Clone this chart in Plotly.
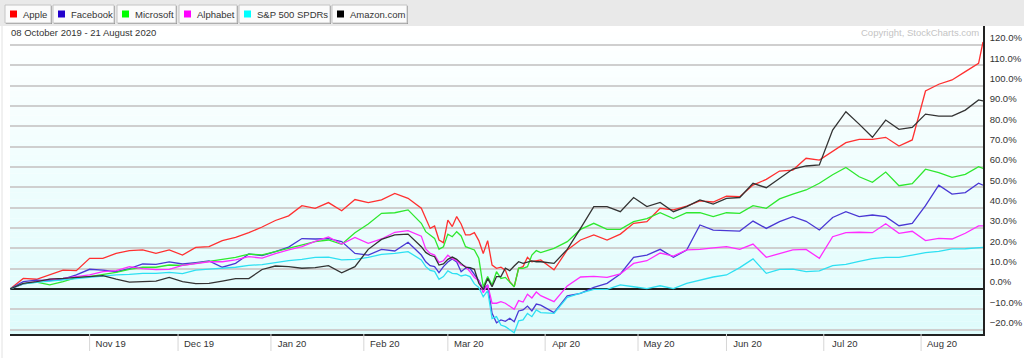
import plotly.graph_objects as go

dates = ["2019-10-08","2019-10-11","2019-10-16","2019-10-21","2019-10-24","2019-10-29",
         "2019-11-01","2019-11-06","2019-11-11","2019-11-14","2019-11-19","2019-11-22","2019-11-27",
         "2019-12-03","2019-12-06","2019-12-11","2019-12-16","2019-12-19","2019-12-24","2019-12-30",
         "2020-01-03","2020-01-08","2020-01-13","2020-01-16","2020-01-22","2020-01-27","2020-01-30",
         "2020-02-04","2020-02-07","2020-02-12","2020-02-18","2020-02-21",
         "2020-02-24","2020-02-25","2020-02-26","2020-02-27","2020-02-28",
         "2020-03-02","2020-03-03","2020-03-04","2020-03-05","2020-03-06",
         "2020-03-09","2020-03-10","2020-03-11","2020-03-12","2020-03-13",
         "2020-03-16","2020-03-17","2020-03-18","2020-03-19","2020-03-20",
         "2020-03-23","2020-03-24","2020-03-25","2020-03-26","2020-03-27",
         "2020-03-30","2020-03-31",
         "2020-04-03","2020-04-08","2020-04-14","2020-04-17","2020-04-22","2020-04-27","2020-04-30",
         "2020-05-05","2020-05-08","2020-05-13","2020-05-18","2020-05-21","2020-05-27",
         "2020-06-01","2020-06-04","2020-06-09","2020-06-12","2020-06-17","2020-06-22","2020-06-25","2020-06-30",
         "2020-07-06","2020-07-09","2020-07-14","2020-07-17","2020-07-22","2020-07-27","2020-07-30",
         "2020-08-04","2020-08-07","2020-08-12","2020-08-17","2020-08-20","2020-08-21"]

apple = [0, 5.2, 4.8, 6.9, 9.3, 9.0, 15.1, 15.1, 17.5, 18.9, 19.2, 17.5, 19.2,
         16.7, 20.5, 20.8, 23.8, 25.4, 27.7, 30.5, 33.7, 36, 41, 39.7, 42.5, 38.5, 44,
         42.5, 43.8, 47, 44.6, 39.7,
         34.6, 29.8, 31, 24.1, 22.8, 33.9, 30.7, 35.6, 32, 26.6, 26.6, 27.7, 23.8, 17.5, 23.8,
         11.8, 10.2, 10.7, 9.3, 3.6, 1.1, 10.2, 11, 15.6, 13.4, 13.9, 14.3,
         9.4, 19.2, 24.1, 26.6, 24.1, 27, 32.3, 33.1, 39.7, 38.9, 40.8, 43.3, 42.8,
         45.7, 45.4, 51.1, 53.9, 58, 58.5, 64.3, 63.4, 67.9, 72, 73.6, 73.6, 74.6, 70.3, 73.3,
         97.4, 100.7, 102.8, 106.9, 111, 121.5]

facebook = [0, 3.6, 4.4, 4.1, 4.8, 6.9, 9.7, 9.3, 8.5, 10, 12.3, 12.1, 13.3,
            12.3, 13, 13.8, 10.7, 12.6, 17.2, 16.4, 18.4, 20.6, 24.8, 24.6, 24.8, 23.3, 17.5,
            16.7, 19.5, 18.7, 23, 16.7,
            13.4, 11.5, 11, 8, 11, 13.3, 14.8, 13.3, 8.5, 10.3, 10.2, 7.4, 4.1, -0.2, 2,
            -12, -16.6, -15.2, -15.9, -14.4, -16.1, -10.8, -10.3, -8.4, -10.8, -7.4, -7.9,
            -11.6, -3.4, -2.1, 0.8, 2.8, 7.4, 15.6, 16.7, 19.5, 15.6, 19.2, 31.5, 29,
            28.7, 28.5, 33.4, 29.8, 33.1, 35.6, 33.3, 29, 35.2, 38, 35.6, 36.4, 35.6, 31.1, 32.3,
            41, 51.1, 46.7, 47.4, 52, 51.1]

microsoft = [0, 2.5, 3.4, 2, 3.6, 5.6, 6.1, 7, 8.2, 9.7, 10.7, 10.7, 11.8,
             11.6, 12.6, 13.6, 14.3, 15.6, 17.2, 16.8, 18.4, 20, 21.5, 23.3, 24.1, 22, 27.7,
             32, 37.2, 37.5, 38.9, 32.3,
             28.2, 26.4, 24.9, 19.5, 20.8, 27, 25.7, 28.2, 26.1, 20.8, 19.8, 19.2, 15.1, 1.1, 6.1,
             2, 8.5, 5.2, 5.7, 3.3, 1.1, 10.2, 10.2, 11, 16.7, 18.9, 17.9,
             20, 23.3, 29.3, 32.3, 29.3, 29.3, 33.1, 34.6, 37.5, 34.6, 37.5, 37.5, 35.6,
             37.5, 37.2, 41, 39.7, 44.3, 46.7, 48.7, 52, 56.2, 59.8, 55.2, 52.5, 57.5, 50.8, 51.8,
             58.9, 57.2, 54.9, 56.4, 60.2, 59.3]

alphabet = [0, 2.5, 3.6, 4.8, 5.2, 6.1, 6.9, 8.5, 9, 11, 10, 9.5, 9.7,
            11.6, 12.6, 13.4, 13.4, 14.3, 15.9, 15.2, 17.4, 19.3, 20.8, 23.4, 25.6, 22.1, 25.4,
            22.5, 24.6, 27.9, 28.7, 26,
            19.7, 17.5, 16.7, 13.1, 13.9, 16.6, 14.9, 13.9, 11.8, 11.1, 8.5, 5.7, 4.1, -1.8, 2,
            -7, -7, -6.2, -7, -8.7, -10, -5.7, -6.4, -2.6, -4.4, -1.5, -3.3,
            -6.2, 1.5, 5.9, 6.2, 5.7, 7.4, 12.6, 13.9, 17.7, 16.2, 19.2, 19.5, 20.2,
            20.8, 19.5, 22.1, 15.6, 17.5, 19.2, 19.5, 15.1, 25.7, 27.7, 27.9, 27.7, 32.1, 27.4, 28.4,
            23.8, 24.9, 24.6, 27.4, 31, 31]

spy = [0, 2.5, 3.3, 3.9, 4.4, 4.9, 5.6, 6.4, 6.9, 7.2, 7.7, 7.7, 8.2,
       7.6, 9.3, 9.8, 10.2, 10.7, 11.6, 12, 13, 14, 14.6, 15.6, 15.7, 14.3, 14.6,
       15.6, 17, 17.5, 18.4, 14.3,
       11, 9.2, 8.7, 4.8, 6.1, 8.9, 7.7, 7.5, 6.4, 6.9, 6.1, 2.5, 0.8, -3.8, -0.8,
       -14.5, -13.6, -17.7, -18.5, -20.2, -21.5, -15.7, -15.2, -12, -13.6, -10.3, -11.6,
       -12, -4.1, -2, -0.2, -0.2, 2, 1.1, 0.2, 1.6, 0.2, 2.8, 4.4, 5.9,
       6.9, 10.5, 14.8, 7.7, 9.7, 9.8, 8.5, 8.9, 11.5, 12.1, 13.6, 14.9, 15.6, 15.6, 16.7,
       17.9, 18.5, 19.7, 19.8, 20.5, 20.5]

amazon = [0, 2.8, 3.6, 4.9, 5.2, 5.7, 6.2, 6.6, 4.9, 3.4, 3.6, 3.9, 5.7,
          3.6, 2.6, 2.8, 3.9, 5.1, 5.1, 9.6, 11.3, 11, 10.2, 10.5, 11.5, 8, 11,
          19.5, 24.4, 26.6, 27, 20.8,
          18, 16.6, 15.9, 11.8, 12.3, 14.6, 15.7, 14.6, 12.6, 10.7, 10.5, 9.7, 2.8, -0.2, 5.2,
          1.1, 6.1, 6.1, 10.2, 9, 11.3, 13.4, 12.6, 13.3, 13.8, 13.4, 13.4,
          12.6, 19.5, 29.8, 40.5, 40.5, 38, 45, 40.5, 42.6, 38, 40.5, 43.8, 41.8,
          44.6, 45, 52, 49.8, 54.4, 59, 60.5, 61, 78.2, 87.2, 81.1, 74.6, 83.1, 78.5, 79.5,
          86, 85, 85, 88, 93, 92.5]

series_names = ["Apple", "Facebook", "Microsoft", "Alphabet", "S&P 500 SPDRs", "Amazon.com"]
series_values = [apple, facebook, microsoft, alphabet, spy, amazon]
line_colors = ["#ff3030", "#4a38d4", "#2ee82e", "#ff2cff", "#2ee0f2", "#333333"]
legend_colors = ["#ff0000", "#2200cc", "#00ff00", "#ff00ff", "#00ffff", "#000000"]

tick_dates = ["2019-11-01", "2019-12-02", "2020-01-02", "2020-02-03", "2020-03-02",
              "2020-04-01", "2020-05-01", "2020-06-01", "2020-07-01", "2020-08-03"]
tick_labels = ["Nov 19", "Dec 19", "Jan 20", "Feb 20", "Mar 20",
               "Apr 20", "May 20", "Jun 20", "Jul 20", "Aug 20"]
holidays = ["2019-11-28", "2019-12-25", "2020-01-01", "2020-01-20", "2020-02-17",
            "2020-04-10", "2020-05-25", "2020-07-03"]

W, H = 1024, 358
L, R, T, B = 10, 983, 26, 334
FS = 9.5


def px(x):
    return (x - L) / (R - L)


def py(y):
    return (B - y) / (B - T)


fig = go.Figure()
for name, vals, col in zip(series_names, series_values, line_colors):
    fig.add_trace(go.Scatter(x=dates, y=vals, mode="lines", name=name,
                             line=dict(color=col, width=1.3), showlegend=False))

shapes = []
n = 48
for k in range(n):
    t = (k + 0.5) / n
    r = int(round(255 - (255 - 222) * t))
    g = int(round(255 - (255 - 252) * t))
    b = int(round(255 - (255 - 252) * t))
    shapes.append(dict(type="rect", xref="paper", yref="paper", x0=0, x1=1,
                       y0=1 - (k + 1) / n, y1=1 - k / n, layer="below",
                       fillcolor=f"rgb({r},{g},{b})", line=dict(width=0)))
shapes.append(dict(type="rect", xref="paper", yref="paper", x0=px(0), x1=px(W),
                   y0=py(26), y1=py(0), fillcolor="#e9e9e9", line=dict(width=0), layer="above"))
shapes.append(dict(type="line", xref="paper", yref="paper", x0=px(2), x1=px(2),
                   y0=py(26), y1=py(H), line=dict(color="#e2e2e2", width=1)))
for d in tick_dates:
    shapes.append(dict(type="line", xref="x", yref="paper", x0=d, x1=d,
                       y0=0, y1=-17 / (B - T), line=dict(color="#d6d6d6", width=1)))

annotations = []
buttons = [(5, 51), (53, 114), (117, 176), (179, 237), (239, 330), (332, 407)]
for (x0, x1), name, col in zip(buttons, series_names, legend_colors):
    shapes.append(dict(type="rect", xref="paper", yref="paper", x0=px(x0 + 1), x1=px(x1 + 1),
                       y0=py(24), y1=py(6), fillcolor="#9a9a9a", line=dict(width=0)))
    shapes.append(dict(type="rect", xref="paper", yref="paper", x0=px(x0), x1=px(x1),
                       y0=py(23), y1=py(5), fillcolor="#fbfbfb",
                       line=dict(color="#c4c4c4", width=1)))
    shapes.append(dict(type="rect", xref="paper", yref="paper", x0=px(x0 + 5), x1=px(x0 + 12),
                       y0=py(17.5), y1=py(10.5), fillcolor=col, line=dict(width=0)))
    annotations.append(dict(xref="paper", yref="paper", x=px(x0 + 16), y=py(14.5),
                            xanchor="left", yanchor="middle", showarrow=False, text=name,
                            font=dict(size=FS, color="#333333")))

annotations.append(dict(xref="paper", yref="paper", x=px(9), y=py(32.5), xanchor="left",
                        yanchor="middle", showarrow=False,
                        text="08 October 2019 - 21 August 2020",
                        font=dict(size=FS, color="#333333")))
annotations.append(dict(xref="paper", yref="paper", x=px(981), y=py(32.5), xanchor="right",
                        yanchor="middle", showarrow=False, text="Copyright, StockCharts.com",
                        font=dict(size=FS, color="#c4c4c4")))

y_top = (289 - T) / 2.0333
y_bot = -(B - 289) / 2.0333

fig.update_layout(
    width=W, height=H,
    margin=dict(l=L, r=W - R, t=T, b=H - B, pad=0, autoexpand=False),
    paper_bgcolor="white", plot_bgcolor="white",
    font=dict(family="Liberation Sans, Arial, sans-serif", size=FS, color="#333333"),
    shapes=shapes, annotations=annotations,
    xaxis=dict(type="date", range=["2019-10-08", "2020-08-21"], automargin=False,
               rangebreaks=[dict(bounds=["sat", "mon"]), dict(values=holidays)],
               tickvals=tick_dates, ticktext=tick_labels, ticks="",
               ticklabelshift=21, showgrid=False, zeroline=False,
               showline=True, linecolor="#222222", linewidth=1.5,
               tickfont=dict(size=FS, color="#333333")),
    yaxis=dict(side="right", range=[y_bot, y_top], dtick=10, tick0=0, automargin=False,
               tickformat=".1f", ticksuffix="%", ticks="",
               showgrid=True, gridcolor="#cfcfcf", gridwidth=1.5,
               zeroline=True, zerolinecolor="#222222", zerolinewidth=1.5,
               showline=True, linecolor="#222222", linewidth=1.5,
               ticklabelstandoff=3, ticklabelshift=-7,
               tickfont=dict(size=FS, color="#333333")),
    hovermode=False,
)

fig.write_html("out.html")
